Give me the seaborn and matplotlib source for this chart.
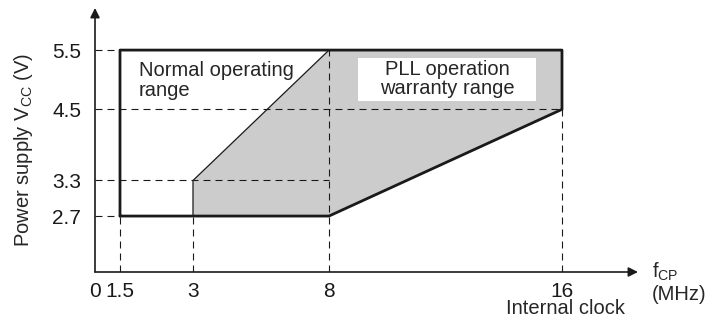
import numpy as np
import seaborn as sns
import matplotlib
matplotlib.use("Agg")
import matplotlib.pyplot as plt
from matplotlib.patches import Rectangle

# values
fcp_ticks = [0, 1.5, 3, 8, 16]
fcp_labels = ["0", "1.5", "3", "8", "16"]
vcc_ticks = [2.7, 3.3, 4.5, 5.5]
vcc_labels = ["2.7", "3.3", "4.5", "5.5"]

# normal operating range (thick outline)
normal_f = [1.5, 1.5, 16, 16, 8, 1.5]
normal_v = [2.7, 5.5, 5.5, 4.5, 2.7, 2.7]

# PLL operation warranty range (gray area)
pll_f = [3, 3, 8, 16, 16, 8, 3]
pll_v = [2.7, 3.3, 5.5, 5.5, 4.5, 2.7, 2.7]

# dashed guides: horizontal (vcc, fcp end), vertical (fcp, vcc end)
hguide_v = [5.5, 4.5, 3.3, 2.7]
hguide_f = [1.5, 16, 8, 1.5]
vguide_f = [1.5, 3, 8, 16]
vguide_v = [2.7, 2.7, 5.5, 4.5]

# the frequency axis is not linear in the original drawing
brk_f = [0, 1.5, 3, 8, 16, 20]
brk_px = [0, 25, 98, 234, 467, 583.5]


def fwd(x):
    return np.interp(x, brk_f, brk_px)


def inv(p):
    return np.interp(p, brk_px, brk_f)


def px(x, y):
    # pixel position (from top-left) -> figure fraction
    return x / 715, 1 - y / 320


sns.set_theme(style="white")
plt.rcParams["font.family"] = ["Liberation Sans", "DejaVu Sans"]
plt.rcParams["mathtext.default"] = "regular"

fig = plt.figure(figsize=(7.15, 3.2), dpi=100)
ax = fig.add_axes([95 / 715, 48 / 320, 543 / 715, 264 / 320])
ax.set_xscale("function", functions=(fwd, inv))
ax.set_xlim(0, 18.61)
ax.set_ylim(1.756, 6.21)

fs = 14.5
dash = (0, (6.3, 4.5))

ax.fill(pll_f, pll_v, color="#cccccc", lw=0, zorder=1)

for v, f in zip(hguide_v, hguide_f):
    ax.plot([0, f], [v, v], color="k", lw=0.8, ls=dash, zorder=2)
for f, v in zip(vguide_f, vguide_v):
    ax.plot([f, f], [1.756, v], color="k", lw=0.8, ls=dash, zorder=2)

sns.lineplot(x=pll_f, y=pll_v, sort=False, estimator=None, color="k",
             lw=0.9, ax=ax, zorder=3)
sns.lineplot(x=normal_f, y=normal_v, sort=False, estimator=None, color="k",
             lw=2.0, ax=ax, zorder=4)

for s in ax.spines.values():
    s.set_visible(False)
ax.annotate("", xy=(1, 0), xytext=(0, 0), xycoords="axes fraction",
            arrowprops=dict(arrowstyle="-|>", color="k", lw=1.2,
                            mutation_scale=14, shrinkA=0, shrinkB=0))
ax.annotate("", xy=(0, 1), xytext=(0, 0), xycoords="axes fraction",
            arrowprops=dict(arrowstyle="-|>", color="k", lw=1.2,
                            mutation_scale=14, shrinkA=0, shrinkB=0))

ax.set_xticks(fcp_ticks)
ax.set_xticklabels(fcp_labels)
ax.set_yticks(vcc_ticks)
ax.set_yticklabels(vcc_labels)
ax.tick_params(axis="both", length=0, labelsize=15, colors="k")
ax.tick_params(axis="y", pad=10)
ax.tick_params(axis="x", pad=7)
ax.minorticks_off()
ax.grid(False)

fig.text(*px(139, 61), "Normal operating\nrange", fontsize=fs,
         ha="left", va="top", linespacing=1.05, zorder=5)

# white label box inside the gray area
x0, y0 = px(358, 101)
fig.patches.append(Rectangle((x0, y0), 178 / 715, 43 / 320,
                             transform=fig.transFigure, facecolor="white",
                             edgecolor="none", zorder=4))
fig.text(*px(447, 79), "PLL operation\nwarranty range", fontsize=fs,
         ha="center", va="center", linespacing=1.0, zorder=5)

fig.text(*px(24, 150), r"Power supply $V_{CC}$ (V)", fontsize=14.5,
         rotation=90, ha="center", va="center")
fig.text(*px(652, 272), r"$f_{CP}$", fontsize=fs, ha="left", va="center")
fig.text(*px(652, 294), "(MHz)", fontsize=fs, ha="left", va="center")
fig.text(*px(566, 314), "Internal clock", fontsize=14.5,
         ha="center", va="baseline")

fig.savefig("out.png", dpi=100)
